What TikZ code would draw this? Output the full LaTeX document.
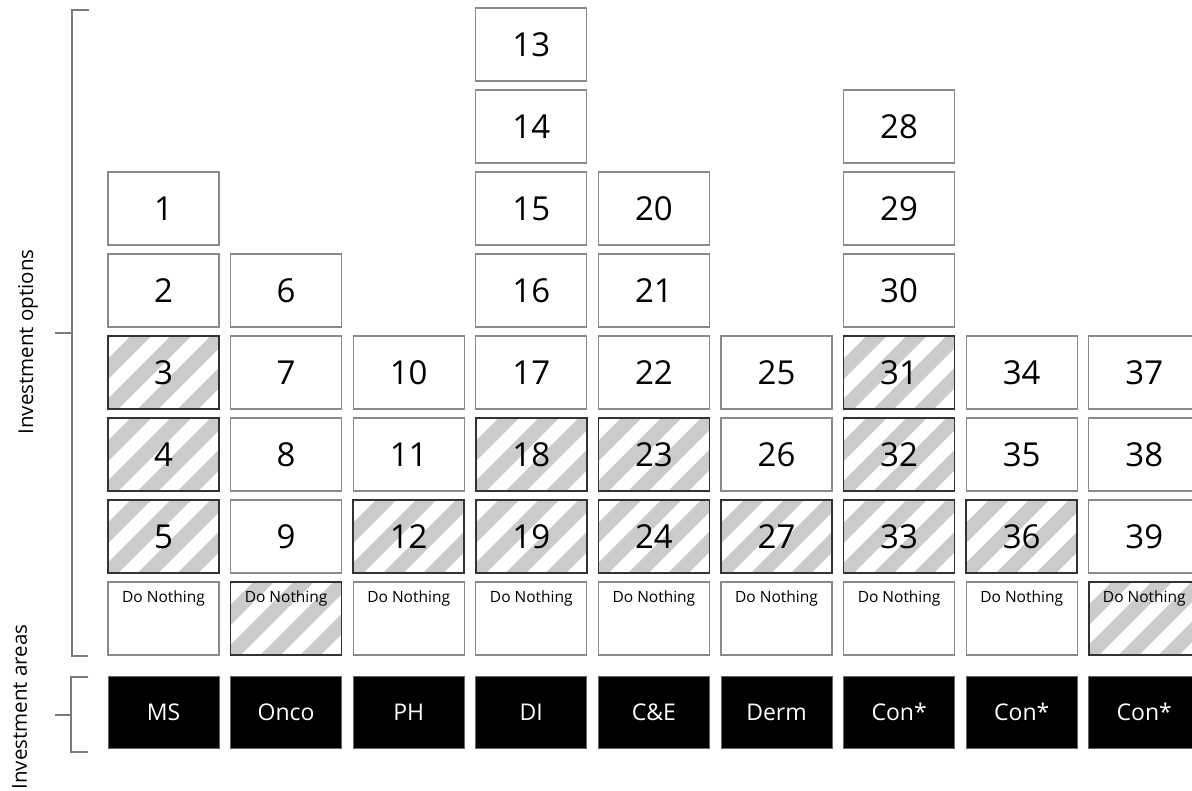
\documentclass[tikz,border=0pt]{standalone}
\usepackage{fontspec}
\setmainfont{Open Sans}
\definecolor{boxgray}{HTML}{8A8A8A}
\definecolor{hatchgray}{HTML}{CBCBCB}
\definecolor{brgray}{HTML}{7A7A7A}
\tikzset{
  x=1pt,y=-1pt,
  optbox/.style={draw=boxgray,line width=1.3pt,fill=white,minimum width=111pt,minimum height=73pt,inner sep=0pt,font=\fontsize{33}{35}\selectfont},
  hatchbox/.style={optbox,draw=black!80,line width=1.7pt,
    path picture={
      \foreach \c in {-120,-80,...,160}
        \draw[hatchgray,line width=14.5pt] ([shift={(\c-20,20)}]path picture bounding box.south west) -- ++(130,-130);
    }},
  dnlabel/.style={label={[anchor=north,yshift=-9pt,inner sep=0pt,font=\fontsize{15.5}{17}\selectfont]north:Do Nothing}},
  areabox/.style={draw=black!60,line width=0.8pt,fill=black,text=white,minimum width=111pt,minimum height=72pt,inner sep=0pt,font=\fontsize{23}{25}\selectfont},
  bracket/.style={draw=brgray,line width=1.5pt},
  axislabel/.style={rotate=90,anchor=base,inner sep=0pt,font=\fontsize{20.5}{22}\selectfont}
}
\newcommand\cx[1]{\fpeval{163.5+122.6*#1}}
\newcommand\ry[1]{\fpeval{44.5+82*#1}}
\begin{document}
\begin{tikzpicture}
\useasboundingbox (0,0) rectangle (1192,791);
\clip (0,0) rectangle (1192,791);
% column 0: MS
\node[optbox] (b1) at (\cx{0},\ry{2}) {1};
\node[optbox] (b2) at (\cx{0},\ry{3}) {2};
\node[hatchbox] (b3) at (\cx{0},\ry{4}) {3};
\node[hatchbox] (b4) at (\cx{0},\ry{5}) {4};
\node[hatchbox] (b5) at (\cx{0},\ry{6}) {5};
\node[optbox,dnlabel] (dn1) at (\cx{0},\ry{7}) {};
% column 1: Onco
\node[optbox] (b6) at (\cx{1},\ry{3}) {6};
\node[optbox] (b7) at (\cx{1},\ry{4}) {7};
\node[optbox] (b8) at (\cx{1},\ry{5}) {8};
\node[optbox] (b9) at (\cx{1},\ry{6}) {9};
\node[hatchbox,dnlabel] (dn2) at (\cx{1},\ry{7}) {};
% column 2: PH
\node[optbox] (b10) at (\cx{2},\ry{4}) {10};
\node[optbox] (b11) at (\cx{2},\ry{5}) {11};
\node[hatchbox] (b12) at (\cx{2},\ry{6}) {12};
\node[optbox,dnlabel] (dn3) at (\cx{2},\ry{7}) {};
% column 3: DI
\node[optbox] (b13) at (\cx{3},\ry{0}) {13};
\node[optbox] (b14) at (\cx{3},\ry{1}) {14};
\node[optbox] (b15) at (\cx{3},\ry{2}) {15};
\node[optbox] (b16) at (\cx{3},\ry{3}) {16};
\node[optbox] (b17) at (\cx{3},\ry{4}) {17};
\node[hatchbox] (b18) at (\cx{3},\ry{5}) {18};
\node[hatchbox] (b19) at (\cx{3},\ry{6}) {19};
\node[optbox,dnlabel] (dn4) at (\cx{3},\ry{7}) {};
% column 4: C&E
\node[optbox] (b20) at (\cx{4},\ry{2}) {20};
\node[optbox] (b21) at (\cx{4},\ry{3}) {21};
\node[optbox] (b22) at (\cx{4},\ry{4}) {22};
\node[hatchbox] (b23) at (\cx{4},\ry{5}) {23};
\node[hatchbox] (b24) at (\cx{4},\ry{6}) {24};
\node[optbox,dnlabel] (dn5) at (\cx{4},\ry{7}) {};
% column 5: Derm
\node[optbox] (b25) at (\cx{5},\ry{4}) {25};
\node[optbox] (b26) at (\cx{5},\ry{5}) {26};
\node[hatchbox] (b27) at (\cx{5},\ry{6}) {27};
\node[optbox,dnlabel] (dn6) at (\cx{5},\ry{7}) {};
% column 6: Con*
\node[optbox] (b28) at (\cx{6},\ry{1}) {28};
\node[optbox] (b29) at (\cx{6},\ry{2}) {29};
\node[optbox] (b30) at (\cx{6},\ry{3}) {30};
\node[hatchbox] (b31) at (\cx{6},\ry{4}) {31};
\node[hatchbox] (b32) at (\cx{6},\ry{5}) {32};
\node[hatchbox] (b33) at (\cx{6},\ry{6}) {33};
\node[optbox,dnlabel] (dn7) at (\cx{6},\ry{7}) {};
% column 7: Con*
\node[optbox] (b34) at (\cx{7},\ry{4}) {34};
\node[optbox] (b35) at (\cx{7},\ry{5}) {35};
\node[hatchbox] (b36) at (\cx{7},\ry{6}) {36};
\node[optbox,dnlabel] (dn8) at (\cx{7},\ry{7}) {};
% column 8: Con*
\node[optbox] (b37) at (\cx{8},\ry{4}) {37};
\node[optbox] (b38) at (\cx{8},\ry{5}) {38};
\node[optbox] (b39) at (\cx{8},\ry{6}) {39};
\node[hatchbox,dnlabel] (dn9) at (\cx{8},\ry{7}) {};
% investment areas
\foreach \i/\t/\n in {0/MS/a1,1/Onco/a2,2/PH/a3,3/DI/a4,4/C\&E/a5,5/Derm/a6,6/Con*/a7,7/Con*/a8,8/Con*/a9}
  \node[areabox] (\n) at (\cx{\i},712) {\t};
% brackets
\coordinate (ot) at (72,10);
\coordinate (ob) at (72,656);
\coordinate (om) at (72,333);
\draw[bracket] (89,10) -- (ot) -- (ob) -- (88,656);
\draw[bracket] (55,333) -- (om);
\coordinate (at) at (71,677);
\coordinate (ab) at (71,752);
\coordinate (am) at (71,715);
\draw[bracket] (88,677) -- (at) -- (ab) -- (88,752);
\draw[bracket] (55,715) -- (am);
% axis labels
\node[axislabel] (lopt) at (33,342) {Investment options};
\node[axislabel] (lare) at (27,707) {Investment areas};
\end{tikzpicture}
\end{document}
